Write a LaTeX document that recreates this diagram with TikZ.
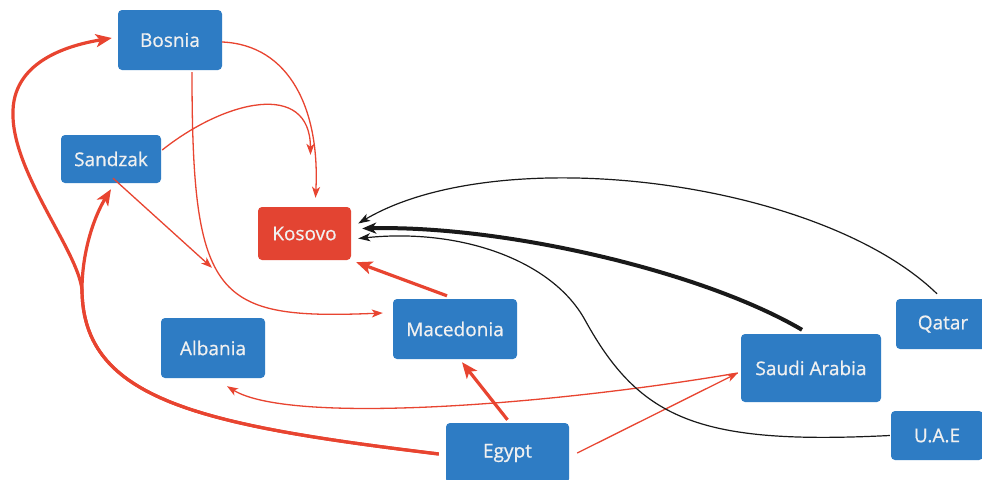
\documentclass[tikz,border=0pt]{standalone}
\usepackage{fontspec}
\setmainfont{Open Sans}
\newfontfamily\lblfont{Open Sans}[FakeBold=0.7]
\usetikzlibrary{arrows.meta}
\definecolor{boxblue}{RGB}{46,124,196}
\definecolor{boxred}{RGB}{227,68,50}
\definecolor{linered}{RGB}{232,68,48}
\definecolor{lineblack}{RGB}{25,25,25}
\tikzset{
  country/.style={draw=none, fill=boxblue, rounded corners=4pt, inner sep=0pt,
    text=white!94!black, font=\lblfont\fontsize{19}{21}\selectfont},
  target/.style={country, fill=boxred},
  thinred/.style={draw=linered, line width=1.3pt, -{Stealth[length=11pt,width=8pt,inset=3pt]}},
  thickred/.style={draw=linered, line width=3.2pt, -{Stealth[length=16pt,width=13pt,inset=4pt]}},
  thinblack/.style={draw=lineblack, line width=1.2pt, -{Stealth[length=12pt,width=8pt,inset=3pt]}},
  thickblack/.style={draw=lineblack, line width=4pt, -{Stealth[length=14pt,width=11pt,inset=4pt]}},
}
\begin{document}
\begin{tikzpicture}[x=1pt,y=-1pt]
\useasboundingbox (0,0) rectangle (982,479);
\fill[white] (0,0) rectangle (982,479);

\node[country, minimum width=104pt, minimum height=60pt] (bosnia) at (170,40) {Bosnia};
\node[country, minimum width=100pt, minimum height=48pt] (sandzak) at (111,159) {Sandzak};
\node[target, minimum width=93pt, minimum height=53pt] (kosovo) at (304.5,233.5) {Kosovo};
\node[country, minimum width=124pt, minimum height=60pt] (macedonia) at (455,329) {Macedonia};
\node[country, minimum width=104pt, minimum height=60pt] (albania) at (213,348) {Albania};
\node[country, minimum width=123pt, minimum height=60pt] (egypt) at (507.5,453) {Egypt};
\node[country, minimum width=140pt, minimum height=68pt] (saudi) at (811,368) {Saudi Arabia};
\node[country, minimum width=94pt, minimum height=50pt] (qatar) at (943,324) {Qatar};
\node[country, minimum width=92pt, minimum height=49pt] (uae) at (937,435.5) {U.A.E};

% thin red
\draw[thinred] ([shift={(0,2)}]bosnia.east) .. controls (290,45) and (320,110) .. ([shift={(11,-9)}]kosovo.north);
\draw[thinred] ([shift={(1,-9)}]sandzak.east) .. controls (225,100) and (310,80) .. ([shift={(6,-52)}]kosovo.north);
\draw[thinred] ([shift={(2,-5)}]sandzak.south) -- ([shift={(-1,-50)}]albania.north);
\draw[thinred] ([shift={(22,2)}]bosnia.south) .. controls (192,300) and (215,320) .. ([shift={(-10,-16)}]macedonia.west);
\draw[thinred] ([shift={(-3,5)}]saudi.west) .. controls (550,405) and (290,425) .. ([shift={(14,8)}]albania.south);
\draw[thinred] ([shift={(8,0)}]egypt.east) -- ([shift={(-3,5)}]saudi.west);

% thick red
\draw[thickred] ([shift={(-8,-3)}]macedonia.north) -- ([shift={(5,2)}]kosovo.south east);
\draw[thickred] ([shift={(0,-3)}]egypt.north) -- ([shift={(7,3)}]macedonia.south);
\draw[thickred] ([shift={(-7,1)}]egypt.west) .. controls (200,425) and (83,400) .. (82,290)
   .. controls (82,250) and (95,215) .. ([shift={(0,6)}]sandzak.south);
\draw[thickred] ([shift={(-7,1)}]egypt.west) .. controls (200,425) and (83,400) .. (82,290)
   .. controls (78,250) and (10,170) .. (13,110) .. controls (15,60) and (70,45) .. ([shift={(-6,-2)}]bosnia.west);

% black
\draw[thinblack] ([shift={(-6,-5)}]qatar.north) .. controls (820,180) and (500,140) .. ([shift={(7,-10)}]kosovo.east);
\draw[thickblack] ([shift={(-9,-4)}]saudi.north) .. controls (700,270) and (500,225) .. ([shift={(11,-5)}]kosovo.east);
\draw[thinblack] ([shift={(-1,0)}]uae.west) .. controls (700,445) and (640,420) .. (585,320)
   .. controls (552,260) and (460,228) .. ([shift={(7,5)}]kosovo.east);
\end{tikzpicture}
\end{document}
